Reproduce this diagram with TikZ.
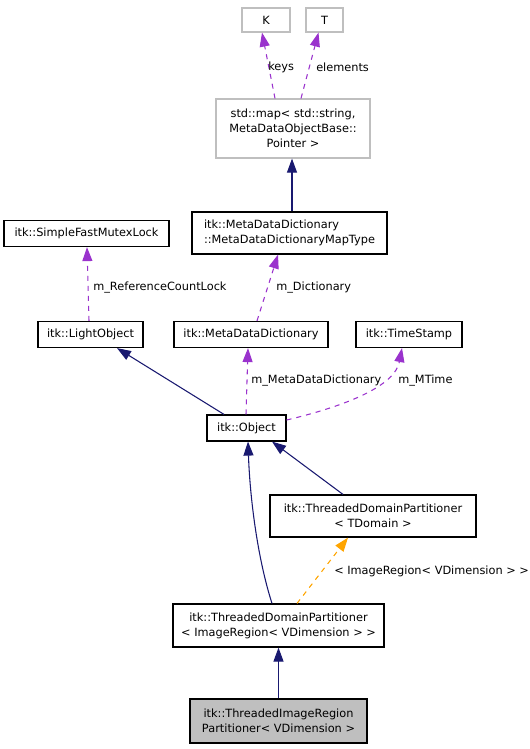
\documentclass[tikz,border=0pt]{standalone}
\usepackage{fontspec}
\setmainfont{DejaVu Sans}
\usetikzlibrary{arrows.meta,calc}
\definecolor{navy}{HTML}{191970}
\definecolor{purp}{HTML}{9A32CD}
\definecolor{orng}{HTML}{FFA500}
\definecolor{lgray}{HTML}{BFBFBF}
\tikzset{
  cls/.style={draw=black,line width=0.9pt,inner sep=0pt,align=center,font=\fontsize{8.5}{11.2}\selectfont},
  ext/.style={cls,draw=lgray},
  cur/.style={cls,fill=lgray},
  lbl/.style={anchor=west,inner sep=0pt,font=\fontsize{8.5}{11.2}\selectfont},
  tip/.style={-{Triangle[length=10.5pt,width=7.5pt]}},
  inh/.style={draw=navy,line width=0.8pt,tip},
  use/.style={draw=purp,line width=0.8pt,dash pattern=on 3.75pt off 3.75pt,tip},
  tpl/.style={draw=orng,line width=0.8pt,dash pattern=on 3.75pt off 3.75pt,tip},
}
\begin{document}
\begin{tikzpicture}[x=0.75pt,y=-0.75pt]
\useasboundingbox (0,0) rectangle (529,749);
% nodes
\node[ext,minimum width=48*0.75pt,minimum height=24*0.75pt] (K) at (266,20) {K};
\node[ext,minimum width=37*0.75pt,minimum height=24*0.75pt] (T) at (324.5,20) {T};
\node[ext,minimum width=154*0.75pt,minimum height=59*0.75pt] (map) at (293,128.5) {std::map< std::string,\\MetaDataObjectBase::\\Pointer >};
\node[cls,align=left,minimum width=195*0.75pt,minimum height=42*0.75pt] (mapt) at (289.5,233) {itk::MetaDataDictionary\\::MetaDataDictionaryMapType};
\node[cls,minimum width=165*0.75pt,minimum height=26*0.75pt] (mutex) at (86.5,233.5) {itk::SimpleFastMutexLock};
\node[cls,minimum width=105*0.75pt,minimum height=26*0.75pt] (light) at (90.5,334.5) {itk::LightObject};
\node[cls,minimum width=154*0.75pt,minimum height=26*0.75pt] (mdd) at (251,334.5) {itk::MetaDataDictionary};
\node[cls,minimum width=106*0.75pt,minimum height=26*0.75pt] (ts) at (409,334.5) {itk::TimeStamp};
\node[cls,minimum width=79*0.75pt,minimum height=26*0.75pt] (obj) at (246.5,428) {itk::Object};
\node[cls,minimum width=206*0.75pt,minimum height=42*0.75pt] (tdpt) at (373,516) {itk::ThreadedDomainPartitioner\\< TDomain >};
\node[cls,minimum width=211*0.75pt,minimum height=43*0.75pt] (tdpi) at (278.5,625.5) {itk::ThreadedDomainPartitioner\\< ImageRegion< VDimension > >};
\node[cur,minimum width=177*0.75pt,minimum height=44*0.75pt] (tirp) at (278.5,721) {itk::ThreadedImageRegion\\Partitioner< VDimension >};
% edges
\draw[use] ($(map.north)+(-18,0)$) -- ($(K.south)+(-4,0)$);
\node[lbl] (lkeys) at (268,67) {keys};
\draw[use] ($(map.north)+(8,0)$) -- ($(T.south)+(-6,0)$);
\node[lbl] (lelem) at (316,67) {elements};
\draw[inh] (mapt.north -| 292,0) -- (map.south -| 292,0);
\draw[use] ($(light.north)+(-1.5,0)$) -- ($(mutex.south)+(0.5,0)$);
\node[lbl] (lref) at (93,288) {m\_ReferenceCountLock};
\draw[use] ($(mdd.north)+(6,0)$) -- ($(mapt.south)+(-11.5,0)$);
\node[lbl] (ldict) at (276,288) {m\_Dictionary};
\draw[inh] ($(obj.north)+(-22.5,0)$) -- ($(light.south)+(26.5,0)$);
\draw[use] ($(obj.north)+(-0.5,0)$) -- ($(mdd.south)+(-3,0)$);
\node[lbl] (lmdd) at (251,381) {m\_MetaDataDictionary};
\draw[use] ($(obj.east)+(0,-8)$) .. controls (350,405) and (395,385) .. ($(ts.south)+(-7,0)$);
\node[lbl] (lmt) at (398,381) {m\_MTime};
\draw[inh] ($(tdpt.north)+(-30,0)$) -- ($(obj.south)+(25.5,0)$);
\draw[inh] ($(tdpi.north)+(-6.5,0)$) .. controls (258,560) and (250,500) .. ($(obj.south)+(1.5,0)$);
\draw[tpl] ($(tdpi.north)+(18.5,0)$) -- ($(tdpt.south)+(-25,0)$);
\node[lbl] (ltpl) at (334,571) {< ImageRegion< VDimension > >};
\draw[inh] (tirp.north) -- (tdpi.south);
\end{tikzpicture}
\end{document}
